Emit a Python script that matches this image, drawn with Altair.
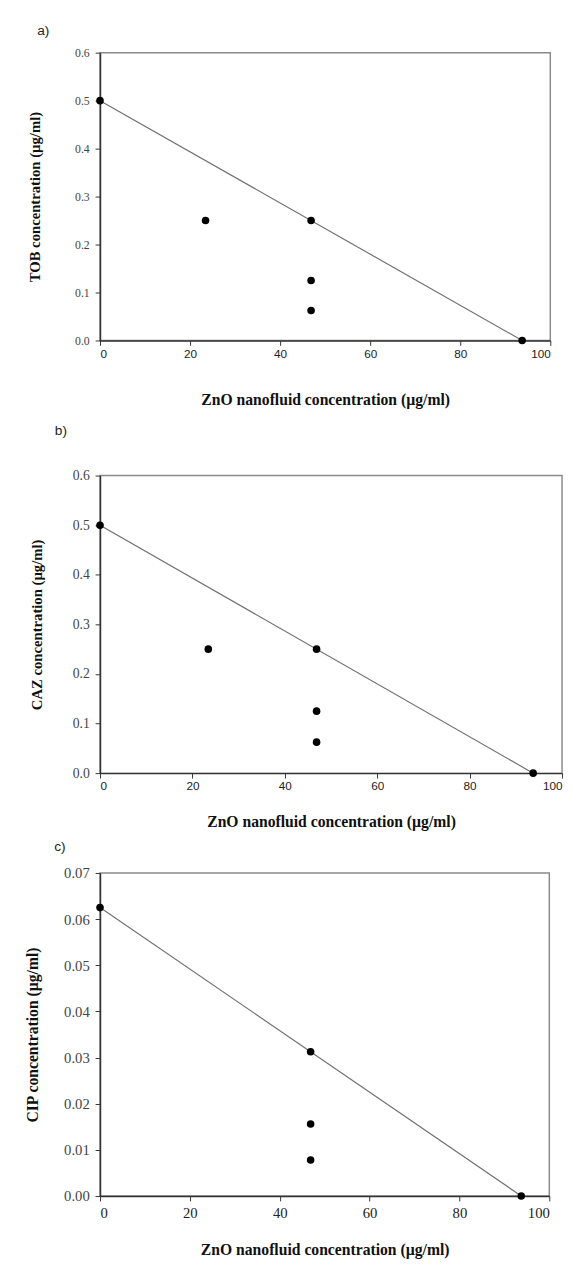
import altair as alt
import pandas as pd

# ---- data ----
zno_ab = [0, 23.4375, 46.875, 46.875, 46.875, 93.75]
tob = [0.5, 0.25, 0.25, 0.125, 0.0625, 0.0]
caz = [0.5, 0.25, 0.25, 0.125, 0.0625, 0.0]
zno_c = [0, 46.875, 46.875, 46.875, 93.75]
cip = [0.0625, 0.03125, 0.015625, 0.0078125, 0.0]

line_x = [0, 93.75]
line_ab = [0.5, 0.0]
line_c = [0.0625, 0.0]

x_ticks = [0, 20, 40, 60, 80, 100]
y_ticks_ab = [0, 0.1, 0.2, 0.3, 0.4, 0.5, 0.6]
y_ticks_c = [0, 0.01, 0.02, 0.03, 0.04, 0.05, 0.06, 0.07]

x_title = "ZnO nanofluid concentration (µg/ml)"

SERIF = "Liberation Serif"
SANS = "Liberation Sans"


def panel(tag, xs, ys, ly, ytitle, ydom, yticks, yfmt, w, h,
          xlab_font, xlab_size, ylab_size, xtitle_size, ytitle_size,
          ytitle_x, xtitle_y, xlab_pad, tag_x, tag_y, mark_x, mark_y0, mark_y1):
    pts = pd.DataFrame({"x": xs, "y": ys})
    ln = pd.DataFrame({"x": line_x, "y": ly})
    tdf = pd.DataFrame({"t": [tag]})

    xenc = alt.X("x:Q", scale=alt.Scale(domain=[0, 100], nice=False),
                 axis=alt.Axis(title=x_title, values=x_ticks, grid=False,
                               tickSize=5, labelFlush=True, labelFlushOffset=0,
                               labelPadding=xlab_pad,
                               labelFont=xlab_font, labelFontSize=xlab_size,
                               labelColor="#222", titleFont=SERIF,
                               titleFontWeight="bold", titleFontSize=xtitle_size,
                               titleColor="#111", titleY=xtitle_y,
                               titleBaseline="middle",
                               domainColor="#333", tickColor="#333",
                               domainWidth=1.5))
    yenc = alt.Y("y:Q", scale=alt.Scale(domain=ydom, nice=False),
                 axis=alt.Axis(title=ytitle, values=yticks, format=yfmt,
                               grid=False, tickSize=5, labelFlush=False,
                               labelPadding=6, labelFont=SERIF,
                               labelFontSize=ylab_size, labelColor="#444",
                               titleFont=SERIF, titleFontWeight="bold",
                               titleFontSize=ytitle_size, titleColor="#111",
                               titleX=ytitle_x, titleY=h / 2,
                               titleBaseline="middle",
                               domainColor="#333", tickColor="#333",
                               domainWidth=1.5))

    line = alt.Chart(ln).mark_line(color="#707070", strokeWidth=1.2).encode(x=xenc, y=yenc)
    dots = alt.Chart(pts).mark_circle(size=60, color="black", opacity=1).encode(x=xenc, y=yenc)
    label = alt.Chart(tdf).mark_text(font=SANS, fontSize=14, color="#222",
                                     align="center", baseline="middle").encode(
        x=alt.value(tag_x), y=alt.value(tag_y), text="t:N")
    marker = alt.Chart(tdf).mark_rule(color="white", strokeWidth=1).encode(
        x=alt.value(mark_x), y=alt.value(mark_y0), y2=alt.value(mark_y1))
    return alt.layer(marker, line, dots, label).properties(width=w, height=h)


pa = panel("a)", zno_ab, tob, line_ab, "TOB concentration (µg/ml)", [0, 0.6],
           y_ticks_ab, ".1f", 460, 294, SANS, 12, 12, 16, 15,
           -67, 60, 3, -58, -22, -92, -30, 370)
pb = panel("b)", zno_ab, caz, line_ab, "CAZ concentration (µg/ml)", [0, 0.6],
           y_ticks_ab, ".1f", 472, 304, SANS, 12, 14, 16, 15,
           -65, 50, 3, -40, -45, -80, -58, 364)
pc = panel("c)", zno_c, cip, line_c, "CIP concentration (µg/ml)", [0, 0.07],
           y_ticks_c, ".2f", 459, 330, SERIF, 15, 15, 16, 16,
           -69, 55, 5, -41, -26, -85, -38, 394)

chart = alt.concat(pa, pb, pc, columns=1, spacing=0, align="none").properties(
    padding=0, background="white"
).configure_view(stroke="#8a8a8a", strokeWidth=1.5)

chart.save("out.html", embed_options={"renderer": "svg", "actions": False})
